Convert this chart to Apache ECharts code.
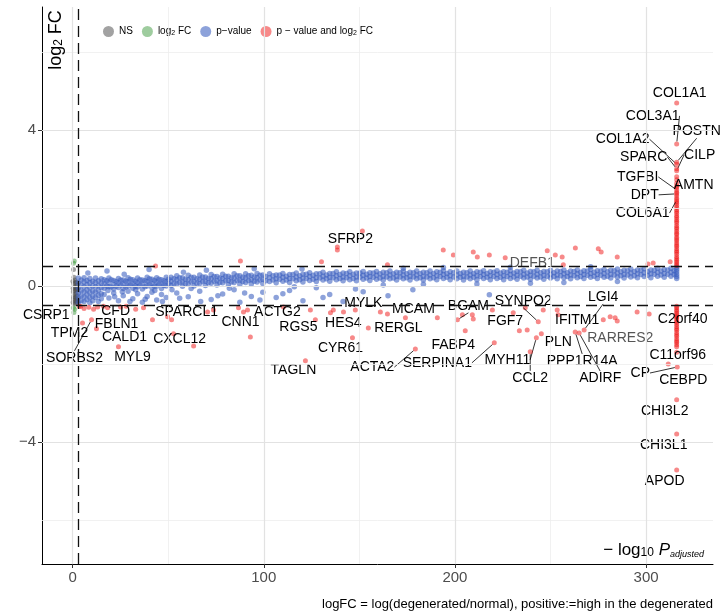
<!DOCTYPE html>
<html>
<head>
<meta charset="utf-8">
<script src="https://cdn.jsdelivr.net/npm/echarts@6/dist/echarts.min.js"></script>
<style>
  html, body { margin: 0; padding: 0; background: #fff; }
  #chart { width: 725px; height: 616px; }
</style>
</head>
<body>
<div id="chart"></div>
<script>
// x = -log10 adjusted p, y = log2 fold change
const xTicks = [0, 100, 200, 300];
const yTicks = [-4, 0, 4];
const xGridMajor = [0, 100, 200, 300];
const xGridMinor = [50, 150, 250];
const yGridMajor = [-4, 0, 4];
const yGridMinor = [-6, -2, 2, 6];
const pCut = 3;
const fcCut = 0.5;

// not significant
const nsPoints = [
  [0.2, 0.12], [0.6, 0.05], [1.0, -0.02], [1.4, 0.08], [1.8, -0.1], [2.2, 0.02], [0.4, -0.15],
  [0.9, -0.22], [1.3, -0.3], [1.7, -0.38], [2.1, -0.25], [0.3, -0.42], [0.8, -0.47], [1.2, -0.12],
  [1.6, -0.05], [2.0, -0.18], [2.4, -0.33], [0.5, -0.33], [1.1, 0.15], [1.5, -0.44], [0.7, 0.22],
  [1.9, 0.1], [0.3, -0.06], [2.5, -0.08], [0.5, 0.42], [1.0, -0.36], [2.3, -0.42], [0.6, -0.27]
];

// |logFC| > cutoff only
const fcPoints = [[0.5, 0.58], [0.9, 0.64], [0.4, -0.56], [1.1, -0.6], [0.7, -0.68]];

// p-value only
const pPoints = [
  [3, 0.2], [3, 0.08], [3, -0.05], [3, -0.18], [3, -0.3], [3, -0.42],
  [4.5, 0.15], [4.5, 0.02], [4.5, -0.12], [4.5, -0.25], [4.5, -0.38],
  [6, 0.21], [6, 0.1], [6, -0.02], [6, -0.15], [6, -0.28], [6, -0.4],
  [7.5, 0.14], [7.5, 0.03], [7.5, -0.1], [7.5, -0.22], [7.5, -0.35],
  [9, 0.19], [9, 0.08], [9, -0.04], [9, -0.17], [9, -0.3], [9, -0.43],
  [10.5, 0.12], [10.5, 0.0], [10.5, -0.13], [10.5, -0.26], [10.5, -0.38],
  [12, 0.2], [12, 0.09], [12, -0.03], [12, -0.16], [12, -0.3],
  [13.5, 0.13], [13.5, 0.01], [13.5, -0.11], [13.5, -0.24], [13.5, -0.4],
  [15, 0.18], [15, 0.07], [15, -0.05], [15, -0.2], [15, -0.33],
  [16.5, 0.16], [16.5, 0.05], [16.5, -0.06], [16.5, -0.22],
  [19, 0.2], [19, 0.09], [19, -0.02], [19, -0.31],
  [21.5, 0.14], [21.5, 0.03], [21.5, -0.08], [21.5, -0.18],
  [24, 0.19], [24, 0.08], [24, -0.04], [24, -0.38],
  [26.5, 0.15], [26.5, 0.04], [26.5, -0.07], [26.5, -0.25],
  [29, 0.21], [29, 0.1], [29, -0.01], [29, -0.14],
  [31.5, 0.16], [31.5, 0.05], [31.5, -0.06], [31.5, -0.33],
  [34, 0.2], [34, 0.09], [34, -0.02], [34, -0.2],
  [36.5, 0.15], [36.5, 0.04], [36.5, -0.08], [36.5, -0.42],
  [39, 0.22], [39, 0.11], [39, 0.0], [39, -0.27],
  [41.5, 0.17], [41.5, 0.06], [41.5, -0.05], [41.5, -0.16],
  [44, 0.21], [44, 0.1], [44, -0.01], [44, -0.36],
  [46.5, 0.16], [46.5, 0.05], [46.5, -0.07], [46.5, -0.22],
  [49, 0.22], [49, 0.11], [49, 0.0], [49, -0.3],
  [17.8, 0.13], [17.8, 0.0], [20.2, 0.16], [20.2, -0.03], [22.8, 0.11], [22.8, -0.01],
  [25.2, 0.15], [25.2, 0.02], [27.8, 0.12], [27.8, -0.03], [30.2, 0.17], [30.2, 0.03],
  [32.8, 0.12], [32.8, 0.0], [35.2, 0.16], [35.2, 0.03], [37.8, 0.13], [37.8, -0.02],
  [40.2, 0.18], [40.2, 0.05], [42.8, 0.14], [42.8, 0.0], [45.2, 0.17], [45.2, 0.04],
  [47.8, 0.13], [47.8, 0.01], [50.2, 0.17], [50.2, 0.06],
  [51.5, 0.22], [51.5, 0.12], [51.5, 0.01],
  [54.5, 0.26], [54.5, 0.16], [54.5, 0.05], [54.5, -0.18],
  [57.5, 0.21], [57.5, 0.1], [57.5, -0.01],
  [60.5, 0.27], [60.5, 0.16], [60.5, 0.05], [60.5, -0.28],
  [63.5, 0.22], [63.5, 0.11], [63.5, 0.0],
  [66.5, 0.28], [66.5, 0.17], [66.5, 0.06], [66.5, -0.14],
  [69.5, 0.23], [69.5, 0.12], [69.5, 0.01],
  [72.5, 0.29], [72.5, 0.18], [72.5, 0.07], [72.5, -0.35],
  [75.5, 0.24], [75.5, 0.13], [75.5, 0.02],
  [78.5, 0.3], [78.5, 0.19], [78.5, 0.08], [78.5, -0.21],
  [81.5, 0.25], [81.5, 0.14], [81.5, 0.03],
  [84.5, 0.31], [84.5, 0.2], [84.5, 0.09], [84.5, -0.1],
  [87.5, 0.26], [87.5, 0.15], [87.5, 0.04], [87.5, -0.42],
  [90.5, 0.31], [90.5, 0.2], [90.5, 0.09],
  [93.5, 0.27], [93.5, 0.16], [93.5, 0.05], [93.5, -0.27],
  [96.5, 0.32], [96.5, 0.21], [96.5, 0.1],
  [99.5, 0.28], [99.5, 0.17], [99.5, 0.06], [99.5, -0.16],
  [53, 0.18], [53, 0.06], [56, 0.21], [56, 0.09], [59, 0.17], [59, 0.06], [62, 0.22], [62, 0.1],
  [65, 0.18], [65, 0.07], [68, 0.23], [68, 0.11], [71, 0.19], [71, 0.08], [74, 0.24], [74, 0.12],
  [77, 0.2], [77, 0.09], [80, 0.25], [80, 0.13], [83, 0.21], [83, 0.1], [86, 0.26], [86, 0.14],
  [89, 0.22], [89, 0.11], [92, 0.26], [92, 0.14], [95, 0.23], [95, 0.12], [98, 0.27], [98, 0.15],
  [101, 0.24], [101, 0.13],
  [103, 0.31], [103, 0.21], [103, 0.11],
  [106.5, 0.28], [106.5, 0.18], [106.5, 0.08], [106.5, -0.3],
  [110, 0.32], [110, 0.22], [110, 0.12],
  [113.5, 0.29], [113.5, 0.19], [113.5, 0.09], [113.5, -0.12],
  [117, 0.33], [117, 0.23], [117, 0.13],
  [120.5, 0.3], [120.5, 0.2], [120.5, 0.1], [120.5, -0.38],
  [124, 0.34], [124, 0.24], [124, 0.14],
  [127.5, 0.31], [127.5, 0.21], [127.5, 0.11], [127.5, -0.05],
  [131, 0.35], [131, 0.25], [131, 0.15],
  [134.5, 0.32], [134.5, 0.22], [134.5, 0.12], [134.5, -0.22],
  [138, 0.36], [138, 0.26], [138, 0.16],
  [141.5, 0.33], [141.5, 0.23], [141.5, 0.13], [141.5, -0.4],
  [145, 0.36], [145, 0.26], [145, 0.16],
  [148.5, 0.33], [148.5, 0.23], [148.5, 0.13],
  [152, 0.37], [152, 0.27], [152, 0.17], [152, -0.15],
  [155.5, 0.34], [155.5, 0.24], [155.5, 0.14],
  [159, 0.37], [159, 0.27], [159, 0.17],
  [162.5, 0.35], [162.5, 0.25], [162.5, 0.15], [162.5, 0.02],
  [166, 0.38], [166, 0.28], [166, 0.18],
  [169.5, 0.35], [169.5, 0.25], [169.5, 0.15],
  [173, 0.38], [173, 0.28], [173, 0.18], [173, 0.45],
  [176.5, 0.35], [176.5, 0.25], [176.5, 0.15],
  [180, 0.38], [180, 0.28], [180, 0.18],
  [183.5, 0.35], [183.5, 0.25], [183.5, 0.15], [183.5, 0.04],
  [187, 0.38], [187, 0.28], [187, 0.18],
  [190.5, 0.36], [190.5, 0.26], [190.5, 0.16],
  [194, 0.39], [194, 0.29], [194, 0.19], [194, 0.47],
  [197.5, 0.36], [197.5, 0.26], [197.5, 0.16],
  [104.8, 0.26], [104.8, 0.15], [108.3, 0.28], [108.3, 0.17], [111.8, 0.25], [111.8, 0.15],
  [115.3, 0.29], [115.3, 0.18], [118.8, 0.26], [118.8, 0.16], [122.3, 0.3], [122.3, 0.19],
  [125.8, 0.27], [125.8, 0.17], [129.3, 0.31], [129.3, 0.2], [132.8, 0.28], [132.8, 0.18],
  [136.3, 0.32], [136.3, 0.21], [139.8, 0.29], [139.8, 0.19], [143.3, 0.32], [143.3, 0.21],
  [146.8, 0.3], [146.8, 0.19], [150.3, 0.33], [150.3, 0.22], [153.8, 0.3], [153.8, 0.2],
  [157.3, 0.33], [157.3, 0.22], [160.8, 0.31], [160.8, 0.2], [164.3, 0.34], [164.3, 0.23],
  [167.8, 0.31], [167.8, 0.2], [171.3, 0.34], [171.3, 0.23], [174.8, 0.31], [174.8, 0.21],
  [178.3, 0.34], [178.3, 0.23], [181.8, 0.32], [181.8, 0.21], [185.3, 0.34], [185.3, 0.23],
  [188.8, 0.32], [188.8, 0.21], [192.3, 0.35], [192.3, 0.24], [195.8, 0.32], [195.8, 0.22],
  [199.3, 0.34], [199.3, 0.23],
  [201, 0.38], [201, 0.28], [201, 0.18],
  [204.5, 0.35], [204.5, 0.25], [204.5, 0.15],
  [208, 0.38], [208, 0.28], [208, 0.18],
  [211.5, 0.36], [211.5, 0.26], [211.5, 0.16], [211.5, 0.05],
  [215, 0.39], [215, 0.29], [215, 0.19],
  [218.5, 0.36], [218.5, 0.26], [218.5, 0.16], [218, -0.23],
  [222, 0.39], [222, 0.29], [222, 0.19],
  [225.5, 0.36], [225.5, 0.26], [225.5, 0.16],
  [229, 0.39], [229, 0.29], [229, 0.19], [229, 0.48],
  [232.5, 0.37], [232.5, 0.27], [232.5, 0.17],
  [236, 0.4], [236, 0.3], [236, 0.2],
  [239.5, 0.37], [239.5, 0.27], [239.5, 0.17], [239.5, 0.07],
  [243, 0.4], [243, 0.3], [243, 0.2],
  [246.5, 0.37], [246.5, 0.27], [246.5, 0.17],
  [250, 0.4], [250, 0.3], [250, 0.2],
  [253.5, 0.38], [253.5, 0.28], [253.5, 0.18],
  [257, 0.41], [257, 0.31], [257, 0.21], [257, 0.09],
  [260.5, 0.38], [260.5, 0.28], [260.5, 0.18],
  [264, 0.41], [264, 0.31], [264, 0.21],
  [267.5, 0.39], [267.5, 0.29], [267.5, 0.19],
  [271, 0.42], [271, 0.32], [271, 0.22], [271, 0.49],
  [274.5, 0.39], [274.5, 0.29], [274.5, 0.19],
  [278, 0.42], [278, 0.32], [278, 0.22],
  [281.5, 0.4], [281.5, 0.3], [281.5, 0.2],
  [285, 0.43], [285, 0.33], [285, 0.23], [285, 0.11],
  [288.5, 0.4], [288.5, 0.3], [288.5, 0.2],
  [292, 0.43], [292, 0.33], [292, 0.23],
  [295.5, 0.41], [295.5, 0.31], [295.5, 0.21],
  [299, 0.44], [299, 0.34], [299, 0.24],
  [302.5, 0.41], [302.5, 0.31], [302.5, 0.21],
  [306, 0.45], [306, 0.35], [306, 0.25],
  [309.5, 0.42], [309.5, 0.32], [309.5, 0.22],
  [313, 0.45], [313, 0.35], [313, 0.25],
  [202.8, 0.32], [202.8, 0.22], [206.3, 0.34], [206.3, 0.23], [209.8, 0.32], [209.8, 0.22],
  [213.3, 0.35], [213.3, 0.24], [216.8, 0.32], [216.8, 0.22], [220.3, 0.35], [220.3, 0.24],
  [223.8, 0.33], [223.8, 0.22], [227.3, 0.35], [227.3, 0.24], [230.8, 0.33], [230.8, 0.23],
  [234.3, 0.36], [234.3, 0.25], [237.8, 0.33], [237.8, 0.23], [241.3, 0.36], [241.3, 0.25],
  [244.8, 0.34], [244.8, 0.23], [248.3, 0.36], [248.3, 0.25], [251.8, 0.34], [251.8, 0.24],
  [255.3, 0.37], [255.3, 0.26], [258.8, 0.34], [258.8, 0.24], [262.3, 0.37], [262.3, 0.26],
  [265.8, 0.35], [265.8, 0.24], [269.3, 0.38], [269.3, 0.27], [272.8, 0.35], [272.8, 0.25],
  [276.3, 0.38], [276.3, 0.27], [279.8, 0.36], [279.8, 0.25], [283.3, 0.39], [283.3, 0.28],
  [286.8, 0.36], [286.8, 0.26], [290.3, 0.39], [290.3, 0.28], [293.8, 0.37], [293.8, 0.26],
  [297.3, 0.4], [297.3, 0.29], [300.8, 0.37], [300.8, 0.27], [304.3, 0.4], [304.3, 0.3],
  [307.8, 0.38], [307.8, 0.28], [311.3, 0.41], [311.3, 0.3], [314.6, 0.39], [314.6, 0.29],
  [316, 0.48], [316, 0.42], [316, 0.36], [316, 0.3], [316, 0.24], [316, 0.19],
  [8, 0.33], [18, 0.38], [27, 0.3], [40, 0.42], [58, 0.35], [70, 0.4], [95, 0.44], [120, 0.43],
  [18.5, -0.12], [22, -0.28], [26, -0.15], [30, -0.4], [33, -0.1], [38, -0.34], [43, -0.12],
  [47, -0.4], [52, -0.1], [56, -0.32], [62, -0.07], [67, -0.4], [76, -0.25], [82, -0.06],
  [90, -0.18], [98, -0.36], [110, -0.2], [116, -0.02], [131, -0.3], [148, -0.08], [165, -0.25], [178, -0.1]
];

// p-value and logFC (unlabelled)
const bothPoints = [
  [130.2, 0.62], [138.5, 0.92], [151.6, 1.41], [164.7, 0.54], [193.9, 0.92], [199.2, 0.79],
  [209.6, 0.87], [211.7, 0.74], [218, 0.79], [226.3, 0.72], [252.5, 0.79], [256.1, 0.74],
  [256.7, 0.54], [263, 0.97], [275, 0.95], [276.5, 0.87], [284.9, 0.74], [301, 0.56],
  [303.7, 0.59], [312.6, 0.62], [43.4, 0.51], [87.8, 0.64],
  [4.2, -0.53], [6, -0.58], [8.5, -0.55], [11, -0.6], [16.2, -0.52], [25.1, -0.54], [28, -0.52],
  [33, -0.6], [37.1, -0.56], [41.8, -0.87], [51.8, -0.87], [52.8, -1.23], [70.6, -0.67],
  [73.7, -0.62], [86.8, -0.56], [91.5, -0.62], [93, -1.31], [127, -0.87], [134.9, -0.69],
  [141.7, -0.67], [154.7, -1.08], [161, -0.67], [190.8, -0.82], [203.9, -0.74], [209.1, -0.74],
  [209.6, -0.85], [219.6, -0.62], [233.7, -1.15], [236.8, -0.56], [237.8, -1.13], [246.2, -0.62],
  [253.5, -0.62], [281.2, -0.79], [283.8, -0.82], [284.9, -0.9], [295.3, -0.67], [301.6, -0.72],
  [316, 0.52], [316, 0.57], [316, 0.61], [316, 0.66], [316, 0.7], [316, 0.75], [316, 0.81],
  [316, 0.86], [316, 0.9], [316, 0.95], [316, 1.01], [316, 1.05], [316, 1.1], [316, 1.16],
  [316, 1.2], [316, 1.25], [316, 1.31], [316, 1.35], [316, 1.4], [316, 1.46], [316, 1.5],
  [316, 1.55], [316, 1.61], [316, 1.66], [316, 1.7], [316, 1.76], [316, 1.8], [316, 1.86],
  [316, 1.91], [316, 1.95], [316, 2.01], [316, 2.06], [316, 2.12], [316, 2.16], [316, 2.25],
  [316, 2.31], [316, 2.4], [316, 2.52], [316, 2.63], [316, 2.72], [316, 2.8],
  [316, -0.52], [316, -0.56], [316, -0.61], [316, -0.65], [316, -0.7], [316, -0.74],
  [316, -0.79], [316, -0.85], [316, -0.9], [316, -0.94], [316, -0.99], [316, -1.05],
  [316, -1.1], [316, -1.14], [316, -1.2], [316, -1.25], [316, -1.3], [316, -1.36],
  [316, -1.41], [316, -1.45], [316, -1.51], [316, -1.56]
];

// labelled genes
const geneNames = ['COL1A1', 'COL3A1', 'POSTN', 'COL1A2', 'SPARC', 'CILP', 'AMTN', 'TGFBI', 'DPT', 'COL6A1',
  'SFRP2', 'DEFB1', 'CSRP1', 'TPM2', 'SORBS2', 'CFD', 'FBLN1', 'CALD1', 'MYL9', 'SPARCL1',
  'CXCL12', 'CNN1', 'ACTG2', 'RGS5', 'TAGLN', 'MYLK', 'HES4', 'CYR61', 'MCAM', 'RERGL',
  'ACTA2', 'SERPINA1', 'BGAM', 'FABP4', 'SYNPO2', 'FGF7', 'MYH11', 'CCL2', 'PLN', 'IFITM1',
  'LGI4', 'RARRES2', 'PPP1R14A', 'ADIRF', 'C2orf40', 'C11orf96', 'CP', 'CEBPD', 'CHI3L2', 'CHI3L1', 'APOD'];
const geneX = [316, 316, 316, 316, 316, 316, 316, 316, 316, 316,
  138.5, 248.3, 3.5, 5.2, 9.9, 13.1, 18.3, 12.5, 24, 49.7,
  63.3, 89.4, 110.3, 124.4, 121.8, 147.9, 136.4, 146.4, 174.1, 164.7,
  179.3, 220.6, 201.3, 205.4, 243.6, 230.5, 242.6, 239.4, 245.2, 254,
  267.6, 277.6, 262.9, 265, 316, 316, 316.3, 311.6, 316, 316, 316];
const geneY = [4.69, 3.64, 3.17, 3.12, 3.0, 2.95, 2.56, 2.46, 2.36, 2.2,
  1.0, 0.9, -0.52, -0.95, -0.87, -0.54, -0.56, -1.1, -1.56, -0.79,
  -1.54, -0.67, -0.54, -0.62, -1.92, -0.62, -0.62, -1.33, -0.82, -0.72,
  -1.62, -1.46, -0.87, -1.15, -0.92, -0.69, -1.33, -1.69, -1.23, -0.74,
  -1.13, -0.87, -1.18, -1.21, -0.8, -1.7, -2.08, -2.0, -2.92, -3.8, -4.72];

// label placement (pixel shift from the point) and connector flags
const labelDx = [3, -24, 20, -54, -33, 23, 17, -39, -32, -34,
  13, -15, -33, -13, -17, 18, 9, 28, 14, 19,
  -14, -3, -6, -12, -12, 8, 10, -12, 8, 11,
  -43, -57, 11, -12, -15, -8, -29, 0, 17, 19,
  19, 17, 7, 21, 6, 1, -37, 15, -12, -13, -12];
const labelDy = [-10, -28, -31, -25, -12, -16, -1, -13, 1, 13,
  -8, 12, 9, 10, 38, 4, 16, 8, 10, -5,
  -7, 10, 5, 17, 9, -7, 13, 10, -9, 14,
  18, 20, -14, 14, -21, 8, 22, 26, 8, 5,
  -33, 18, 29, 45, 2, 3, 6, 16, 11, 11, 11];
const withSegment = ['COL3A1', 'POSTN', 'COL1A2', 'SPARC', 'CILP', 'TGFBI', 'DPT', 'COL6A1', 'SORBS2',
  'ACTA2', 'SERPINA1', 'BGAM', 'SYNPO2', 'MYH11', 'CCL2', 'LGI4', 'PPP1R14A', 'ADIRF', 'CP'];
const greyLabels = ['DEFB1', 'RARRES2'];

const FONT = '"Liberation Sans", Arial, sans-serif';

const geneData = geneNames.map((name, i) => ({
  name: name,
  value: [geneX[i], geneY[i]],
  labelLine: { show: withSegment.includes(name) },
  label: greyLabels.includes(name) ? { color: '#555' } : undefined
}));

const gridLines = [
  ...xGridMinor.map(v => ({ xAxis: v, lineStyle: { color: '#ededed', width: 0.8, type: 'solid' } })),
  ...yGridMinor.map(v => ({ yAxis: v, lineStyle: { color: '#ededed', width: 0.8, type: 'solid' } })),
  ...xGridMajor.map(v => ({ xAxis: v, lineStyle: { color: '#e2e2e2', width: 1.2, type: 'solid' } })),
  ...yGridMajor.map(v => ({ yAxis: v, lineStyle: { color: '#e2e2e2', width: 1.2, type: 'solid' } }))
];

const cutLines = [
  { xAxis: pCut },
  { yAxis: fcCut },
  { yAxis: -fcCut }
];

const subRich = {
  t: { fontSize: 10, fontFamily: FONT, color: '#000' },
  s: { fontSize: 7, fontFamily: FONT, color: '#000', verticalAlign: 'bottom', lineHeight: 9 }
};

const legendText = name => {
  if (!name.includes('log2')) return '{t|' + name + '}';
  return name.split('log2').map(s => (s ? '{t|' + s + '}' : '')).join('{t|log}{s|2}');
};

const chart = echarts.init(document.getElementById('chart'));

const option = {
  animation: false,
  backgroundColor: '#fff',
  grid: { left: 42, right: 12, top: 7, bottom: 52 },
  legend: {
    data: ['NS', 'log2 FC', 'p−value', 'p − value and log2 FC'],
    left: 98,
    top: 21,
    icon: 'circle',
    itemWidth: 11,
    itemHeight: 11,
    itemGap: 9,
    formatter: legendText,
    textStyle: { fontSize: 10, fontFamily: FONT, color: '#000', rich: subRich }
  },
  xAxis: {
    type: 'value',
    min: -16,
    max: 335,
    splitLine: { show: false },
    axisLine: { onZero: false, lineStyle: { color: '#000', width: 1 } },
    axisTick: { show: true, length: 4, customValues: xTicks, lineStyle: { color: '#333' } },
    axisLabel: { customValues: xTicks, color: '#4d4d4d', fontSize: 15, fontFamily: FONT, margin: 6 }
  },
  yAxis: {
    type: 'value',
    min: -7.13,
    max: 7.15,
    splitLine: { show: false },
    axisLine: { show: true, onZero: false, lineStyle: { color: '#000', width: 1 } },
    axisTick: { show: true, length: 4, customValues: yTicks, lineStyle: { color: '#333' } },
    axisLabel: {
      customValues: yTicks, color: '#4d4d4d', fontSize: 15, fontFamily: FONT, margin: 6,
      formatter: v => String(v).replace('-', '−')
    }
  },
  series: [
    {
      name: 'grid', type: 'scatter', data: [], silent: true, z: 1,
      markLine: { silent: true, symbol: 'none', label: { show: false }, animation: false, data: gridLines }
    },
    {
      name: 'NS', type: 'scatter', data: nsPoints, symbolSize: 5, z: 2,
      itemStyle: { color: 'rgba(77,77,77,0.65)' }
    },
    {
      name: 'log2 FC', type: 'scatter', data: fcPoints, symbolSize: 5, z: 2,
      itemStyle: { color: 'rgba(34,139,34,0.55)' }
    },
    {
      name: 'p−value', type: 'scatter', data: pPoints, symbolSize: 5.5, z: 2,
      itemStyle: { color: 'rgba(57,94,190,0.72)' }
    },
    {
      name: 'p − value and log2 FC', type: 'scatter', data: bothPoints, symbolSize: 5, z: 2,
      itemStyle: { color: 'rgba(238,17,17,0.62)' }
    },
    {
      name: 'cutoffs', type: 'scatter', data: [], silent: true, z: 3,
      markLine: {
        silent: true, symbol: 'none', label: { show: false }, animation: false,
        lineStyle: { color: '#111', type: [11, 6], width: 1.3 },
        data: cutLines
      }
    },
    {
      name: 'genes', type: 'scatter', data: geneData, symbolSize: 5, z: 4,
      itemStyle: { color: 'rgba(238,17,17,0.62)' },
      label: {
        show: true, position: 'inside', formatter: '{b}',
        color: '#000', opacity: 1, textBorderWidth: 0, fontSize: 14, fontFamily: FONT
      },
      labelLine: { lineStyle: { color: '#000', width: 0.8 } },
      labelLayout: p => ({ dx: labelDx[p.dataIndex], dy: labelDy[p.dataIndex] })
    }
  ],
  graphic: [
    {
      type: 'text', x: 55, y: 40, rotation: Math.PI / 2, z: 10,
      style: {
        text: '{n|log}{s|2}{n| FC}',
        align: 'center', verticalAlign: 'middle',
        rich: {
          n: { fontSize: 18, fontFamily: FONT, fill: '#000', verticalAlign: 'bottom', lineHeight: 20 },
          s: { fontSize: 12, fontFamily: FONT, fill: '#000', verticalAlign: 'bottom', lineHeight: 12 }
        }
      }
    },
    {
      type: 'text', x: 704, y: 549, z: 10,
      style: {
        text: '{n|− log}{s|10}{i| P}{a|adjusted}',
        align: 'right', verticalAlign: 'middle',
        rich: {
          n: { fontSize: 17, fontFamily: FONT, fill: '#000', verticalAlign: 'bottom', lineHeight: 20 },
          s: { fontSize: 12, fontFamily: FONT, fill: '#000', verticalAlign: 'bottom', lineHeight: 12 },
          i: { fontSize: 17, fontFamily: FONT, fontStyle: 'italic', fill: '#000', verticalAlign: 'bottom', lineHeight: 20 },
          a: { fontSize: 9, fontFamily: FONT, fontStyle: 'italic', fill: '#000', verticalAlign: 'bottom', lineHeight: 10 }
        }
      }
    },
    {
      type: 'text', x: 713, y: 604, z: 10,
      style: {
        text: 'logFC = log(degenerated/normal), positive:=high in the degenerated',
        align: 'right', verticalAlign: 'middle',
        fontSize: 13, fontFamily: FONT, fill: '#000'
      }
    }
  ]
};

chart.setOption(option);
window.addEventListener('resize', () => chart.resize());
</script>
</body>
</html>
